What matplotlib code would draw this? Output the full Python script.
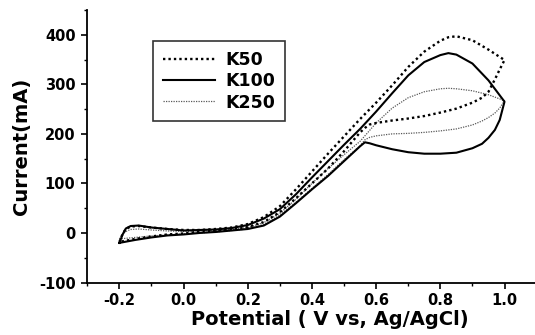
import matplotlib
matplotlib.use("Agg")
import matplotlib.pyplot as plt
from matplotlib.ticker import MultipleLocator

plt.rcParams['font.family'] = ['DejaVu Sans']
plt.rcParams['font.weight'] = 'bold'
plt.rcParams['axes.unicode_minus'] = False

# Forward scan potentials (V)
fwd_x = [-0.2, -0.19, -0.18, -0.165, -0.14, -0.1, -0.05, 0.0, 0.05, 0.1, 0.15, 0.2,
         0.25, 0.3, 0.35, 0.4, 0.45, 0.5, 0.55, 0.6, 0.65, 0.7, 0.75, 0.8, 0.825,
         0.85, 0.9, 0.95, 1.0]
# Reverse scan potentials (V)
rev_x = [1.0, 0.985, 0.97, 0.95, 0.93, 0.9, 0.85, 0.8, 0.75, 0.7, 0.65, 0.6, 0.58,
         0.565, 0.55, 0.5, 0.45, 0.4, 0.35, 0.3, 0.25, 0.2, 0.15, 0.1, 0.05, 0.0,
         -0.05, -0.1, -0.15, -0.2]

k50_fwd = [-18, -2, 8, 13, 14, 11, 8, 6, 6, 8, 11, 18, 32, 54, 88, 124, 160, 195,
           230, 263, 298, 335, 366, 388, 395, 397, 389, 370, 349]
k50_rev = [349, 330, 310, 285, 273, 263, 251, 243, 236, 231, 227, 222, 219, 212,
           203, 165, 130, 100, 70, 42, 22, 12, 8, 4, 2, -1, -3, -7, -12, -18]

k100_fwd = [-20, -3, 9, 14, 15, 11, 8, 5, 6, 7, 10, 16, 29, 48, 78, 112, 145, 178,
            210, 245, 282, 318, 345, 359, 363, 360, 342, 308, 265]
k100_rev = [265, 228, 208, 192, 180, 171, 162, 160, 160, 163, 169, 177, 181, 183,
            175, 145, 115, 88, 60, 33, 15, 8, 5, 2, 0, -3, -5, -9, -14, -20]

k250_fwd = [-12, -3, 3, 7, 8, 6, 4, 3, 4, 5, 7, 11, 21, 40, 68, 100, 130, 158, 185,
            222, 252, 273, 285, 291, 292, 291, 287, 279, 267]
k250_rev = [267, 252, 242, 233, 226, 218, 210, 206, 203, 201, 200, 196, 193, 188,
            176, 148, 118, 90, 62, 36, 17, 8, 5, 2, 0, -2, -4, -6, -9, -12]

labels = ["K50", "K100", "K250"]

fig = plt.figure(figsize=(5.35, 3.35), dpi=100)
ax = fig.add_axes([0.1632, 0.1567, 0.8368, 0.8134])

l250, = ax.plot(fwd_x + rev_x, k250_fwd + k250_rev, color='0.35', lw=0.9,
                linestyle=(0, (1, 1)))
l100, = ax.plot(fwd_x + rev_x, k100_fwd + k100_rev, color='black', lw=1.5,
                linestyle='-')
l50, = ax.plot(fwd_x + rev_x, k50_fwd + k50_rev, color='black', lw=1.7,
               linestyle=(0, (1, 1.3)))

ax.set_xlim(-0.3, 1.095)
ax.set_ylim(-100, 450)
ax.xaxis.set_minor_locator(MultipleLocator(0.1))
ax.yaxis.set_major_locator(MultipleLocator(100))
ax.yaxis.set_minor_locator(MultipleLocator(50))
ax.set_xticks([-0.2, 0.0, 0.2, 0.4, 0.6, 0.8, 1.0])
ax.set_xticklabels(["-0.2", "0.0", "0.2", "0.4", "0.6", "0.8", "1.0"])

for s in ['top', 'right']:
    ax.spines[s].set_visible(False)
for s in ['left', 'bottom']:
    ax.spines[s].set_linewidth(1.3)

ax.tick_params(which='major', direction='out', length=4.5, width=1.2,
               labelsize=10.5, pad=3)
ax.tick_params(which='minor', direction='out', length=2.5, width=1.0)
ax.tick_params(axis='y', which='major', pad=4)
for lab in ax.get_xticklabels() + ax.get_yticklabels():
    lab.set_fontweight('bold')

ax.set_xlabel("Potential ( V vs, Ag/AgCl)", fontsize=14, fontweight='bold')
ax.xaxis.set_label_coords(0.542, -0.1)
ax.set_ylabel("Current(mA)", fontsize=14, fontweight='bold')
ax.yaxis.set_label_coords(-0.125, 0.5)

leg = ax.legend([l50, l100, l250], labels, loc='upper left',
                bbox_to_anchor=(0.147, 0.886), borderaxespad=0,
                fancybox=False, frameon=True, handlelength=3.0,
                handletextpad=0.6, labelspacing=0.2, borderpad=0.55,
                prop={'weight': 'bold', 'size': 12.5})
leg.get_frame().set_edgecolor('black')
leg.get_frame().set_linewidth(1.2)

fig.savefig("out.png", dpi=100)
